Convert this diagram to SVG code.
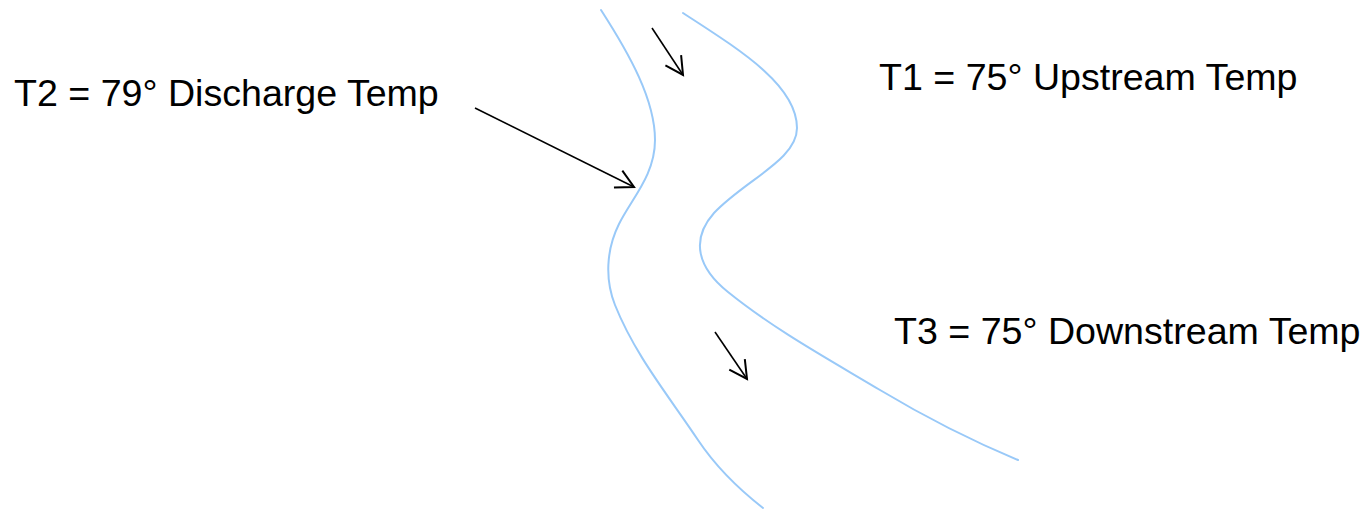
<svg xmlns="http://www.w3.org/2000/svg" width="1363" height="510" viewBox="0 0 1363 510">
  <style>
    .bank { fill: none; stroke: #99c9f8; stroke-width: 2; stroke-linecap: round; }
    .flow { fill: none; stroke: #000; stroke-width: 1.6; marker-end: url(#head); }
    .label { font-family: "Liberation Sans", Arial, sans-serif; font-size: 37.6px; fill: #000; }
  </style>
  <defs>
    <marker id="head" markerUnits="userSpaceOnUse" viewBox="-20 -12 22 24" refX="0" refY="0" markerWidth="22" markerHeight="24" orient="auto" overflow="visible">
      <path d="M-17.7,-9.4 L0,0 L-17.7,9.4" fill="none" stroke="#000" stroke-width="2" stroke-linejoin="miter"/>
    </marker>
  </defs>

  <rect width="1363" height="510" fill="#fff"/>

  <!-- river banks -->
  <g id="river">
    <path id="left-bank" class="bank" d="M601,10 C630,55 655,100 655,140 C655,175 632,198 619,224 C606,250 605,280 615,305 C635,355 668,395 698,440 C718,470 740,490 763,508"/>
    <path id="right-bank" class="bank" d="M683,13 C740,50 797,85 797,128 C797,160 745,180 714,213 C690,240 698,268 728,292 C775,330 830,360 880,390 C930,420 970,440 1018,460"/>
  </g>

  <!-- flow and discharge arrows -->
  <g id="connectors">
    <line id="flow-upstream" class="flow" x1="652" y1="28" x2="683" y2="75"/>
    <line id="flow-downstream" class="flow" x1="715" y1="332" x2="747" y2="379"/>
    <line id="discharge" class="flow" x1="475" y1="108" x2="634" y2="187"/>
  </g>

  <g id="t2-label"><text class="label" x="14" y="106">T2 = 79° Discharge Temp</text></g>
  <g id="t1-label"><text class="label" x="879" y="90">T1 = 75° Upstream Temp</text></g>
  <g id="t3-label"><text class="label" x="894" y="344">T3 = 75° Downstream Temp</text></g>
</svg>
